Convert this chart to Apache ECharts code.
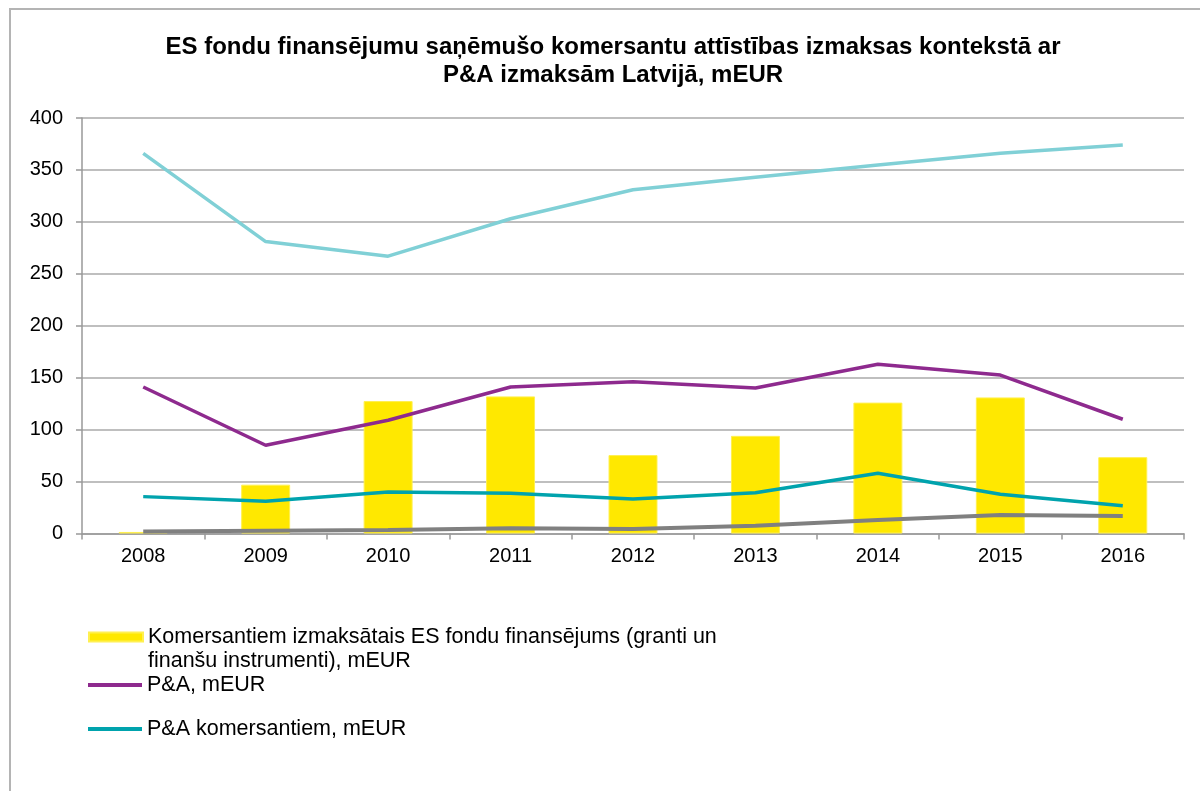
<!DOCTYPE html>
<html>
<head>
<meta charset="utf-8">
<script src="https://cdn.jsdelivr.net/npm/echarts@6/dist/echarts.min.js"></script>
<style>
html,body{margin:0;padding:0;background:#fff;}
#frame{position:absolute;left:0;top:0;width:1200px;height:791px;}
#border{position:absolute;left:9px;top:8px;width:1191px;height:783px;border-left:2px solid #b4b4b4;border-top:2px solid #b4b4b4;box-sizing:border-box;}
#chart{position:absolute;left:0;top:0;width:1200px;height:791px;}
</style>
</head>
<body>
<div id="frame"><div id="border"></div><div id="chart"></div></div>
<script>
const categories = ['2008','2009','2010','2011','2012','2013','2014','2015','2016'];
const fundingEU = [1.5, 47, 127.5, 132, 75.5, 94, 126, 131, 73.5];
const rdTotal = [141, 85, 109, 141, 146, 140, 163, 152.5, 110];
const rdBusiness = [35.5, 31, 40, 38.7, 33.2, 39.3, 58, 37.7, 26.8];
const seriesGray = [2, 2.7, 3.4, 5, 4.3, 7.5, 13, 17.8, 16.8];
const seriesLightCyan = [366, 281, 267, 303, 331, 343, 354.7, 366, 374];
const yTicks = {min: 0, max: 400, interval: 50};

const nameBar = 'Komersantiem izmaksātais ES fondu finansējums (granti un\nfinanšu instrumenti), mEUR';
const nameRd = 'P&A, mEUR';
const nameRdB = 'P&A komersantiem, mEUR';

const font = '"Liberation Sans", Arial, sans-serif';
const chart = echarts.init(document.getElementById('chart'));
const legendText = {fontFamily: font, fontSize: 21.5, color: '#000', lineHeight: 24};
chart.setOption({
  animation: false,
  title: {
    text: 'ES fondu finansējumu saņēmušo komersantu attīstības izmaksas kontekstā ar\nP&A izmaksām Latvijā, mEUR',
    left: 608, top: 28, textAlign: 'center',
    textStyle: {fontFamily: font, fontSize: 24, fontWeight: 'bold', color: '#000', lineHeight: 28}
  },
  grid: {left: 82, right: 16, top: 118, bottom: 257.5, containLabel: false},
  legend: [
    {data: [nameBar], left: 88, top: 601, padding: 0, itemWidth: 54, itemHeight: 9, icon: 'rect',
     formatter: function (n) { return ' \n' + n; },
     textStyle: legendText, selectedMode: false},
    {data: [nameRd], left: 88, top: 673, padding: 0, itemWidth: 54, itemHeight: 4, icon: 'rect',
     textStyle: legendText, selectedMode: false},
    {data: [nameRdB], left: 88, top: 717, padding: 0, itemWidth: 54, itemHeight: 4, icon: 'rect',
     textStyle: legendText, selectedMode: false}
  ],
  xAxis: {
    type: 'category', data: categories,
    axisLine: {lineStyle: {color: '#999', width: 1.5}},
    axisTick: {show: true, length: 6, lineStyle: {color: '#999', width: 1.5}},
    axisLabel: {fontFamily: font, fontSize: 20, color: '#000', margin: 13}
  },
  yAxis: {
    type: 'value', min: yTicks.min, max: yTicks.max, interval: yTicks.interval,
    axisLine: {show: true, lineStyle: {color: '#999', width: 1.5}},
    axisTick: {show: true, length: 6, lineStyle: {color: '#999', width: 1.5}},
    splitLine: {lineStyle: {color: '#aaa', width: 1.5}},
    axisLabel: {fontFamily: font, fontSize: 20, color: '#000', margin: 19}
  },
  series: [
    {name: nameBar, type: 'bar', data: fundingEU, barWidth: '40%',
     itemStyle: {color: '#FFE800', borderColor: '#FFF050', borderWidth: 1}, z: 1},
    {name: 'grey', type: 'line', data: seriesGray, symbol: 'none', lineStyle: {color: '#808080', width: 4}, z: 3},
    {name: 'lightcyan', type: 'line', data: seriesLightCyan, symbol: 'none', lineStyle: {color: '#80D0D6', width: 3.5}, z: 3},
    {name: nameRd, type: 'line', data: rdTotal, symbol: 'none', lineStyle: {color: '#8E2A8E', width: 3.5}, itemStyle: {color: '#8E2A8E'}, z: 3},
    {name: nameRdB, type: 'line', data: rdBusiness, symbol: 'none', lineStyle: {color: '#00A3AD', width: 3.5}, itemStyle: {color: '#00A3AD'}, z: 3}
  ]
});
</script>
</body>
</html>
